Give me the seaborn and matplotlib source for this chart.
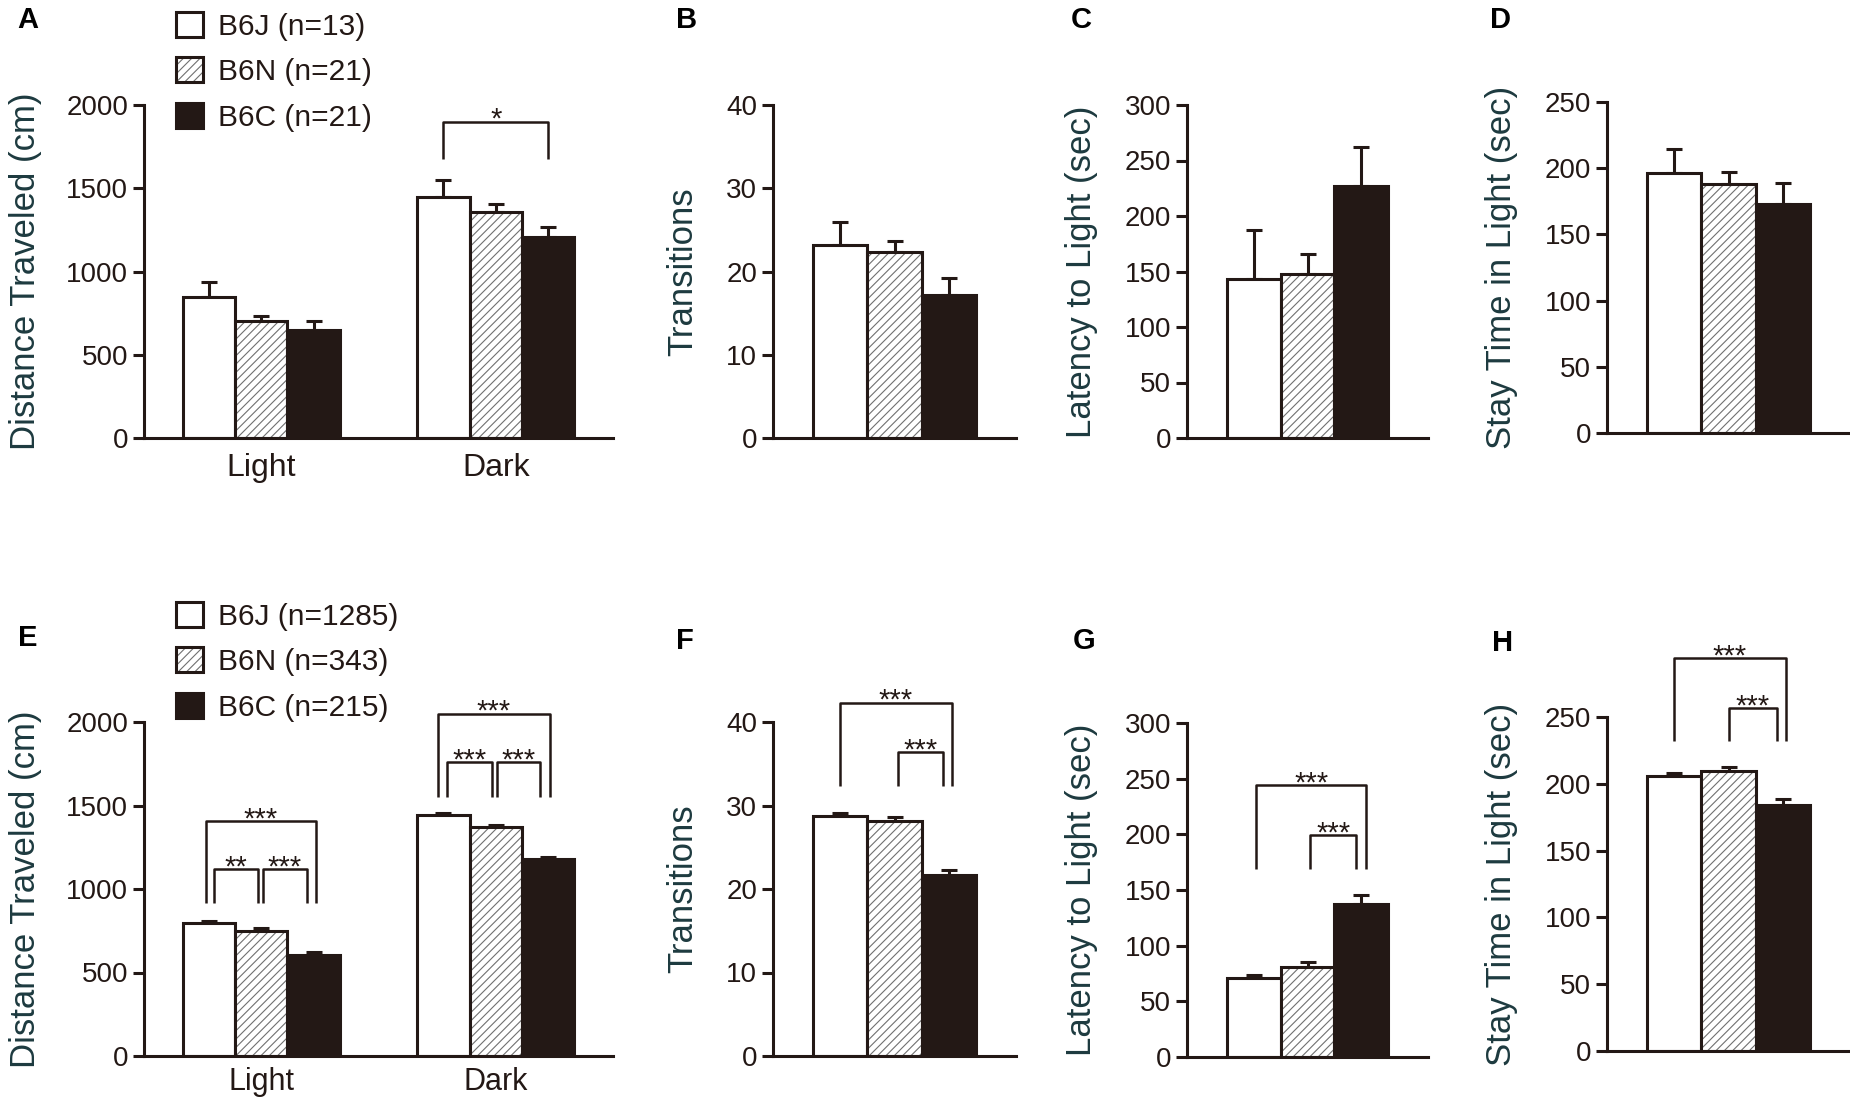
import numpy as np
import pandas as pd
import matplotlib
matplotlib.use("Agg")
import matplotlib.pyplot as plt
import seaborn as sns
from matplotlib.patches import Patch, Rectangle
from matplotlib.container import BarContainer
from matplotlib.legend_handler import HandlerTuple
import matplotlib.transforms as mtrans

# ---------------- data ----------------
strains = ["B6J", "B6N", "B6C"]
phases = ["Light", "Dark"]
legend_top = ["B6J (n=13)", "B6N (n=21)", "B6C (n=21)"]
legend_bottom = ["B6J (n=1285)", "B6N (n=343)", "B6C (n=215)"]

# Top row (A-D)
dist_top_light = [847, 704, 648]
dist_top_light_sem = [90, 30, 56]
dist_top_dark = [1448, 1360, 1210]
dist_top_dark_sem = [99, 48, 58]
trans_top = [23.2, 22.4, 17.2]
trans_top_sem = [2.8, 1.25, 2.0]
lat_top = [143.4, 148.0, 227.0]
lat_top_sem = [44.0, 18.0, 35.5]
stay_top = [196.4, 188.2, 172.8]
stay_top_sem = [18.0, 9.2, 15.9]

# Bottom row (E-H)
dist_bot_light = [794, 750, 606]
dist_bot_light_sem = [14, 14, 14]
dist_bot_dark = [1446, 1370, 1178]
dist_bot_dark_sem = [12, 16, 16]
trans_bot = [28.7, 28.1, 21.7]
trans_bot_sem = [0.4, 0.5, 0.6]
lat_bot = [71.4, 81.0, 137.1]
lat_bot_sem = [2.7, 3.9, 8.4]
stay_bot = [206.0, 209.3, 184.3]
stay_bot_sem = [2.0, 3.0, 4.3]

ylabels = ["Distance Traveled (cm)", "Transitions", "Latency to Light (sec)",
           "Stay Time in Light (sec)"]
yticks_list = [[0, 500, 1000, 1500, 2000], [0, 10, 20, 30, 40],
               [0, 50, 100, 150, 200, 250, 300], [0, 50, 100, 150, 200, 250]]

# significance labels and bracket heights (data units)
sig_A = [((1, 0), (1, 2), 1675, 1900, "*")]
sig_E = [((0, 0), (0, 2), 914, 1408, "***"), ((0, 0), (0, 1), 918, 1118, "**"),
         ((0, 1), (0, 2), 918, 1118, "***"),
         ((1, 0), (1, 2), 1550, 2050, "***"), ((1, 0), (1, 1), 1550, 1758, "***"),
         ((1, 1), (1, 2), 1550, 1758, "***")]
sig_F = [((0, 0), (0, 2), 32.3, 42.3, "***"), ((0, 1), (0, 2), 32.3, 36.4, "***")]
sig_G = [((0, 0), (0, 2), 169, 244, "***"), ((0, 1), (0, 2), 169, 199, "***")]
sig_H = [((0, 0), (0, 2), 231.8, 293.8, "***"), ((0, 1), (0, 2), 231.8, 256.8, "***")]

# bracket leg offsets from bar centres (fraction of bar width) - layout only
leg_off_A = [(0.0, 0.0)]
leg_off_E = [(-0.06, 0.045), (0.094, -0.06), (0.035, -0.13),
             (-0.10, 0.03), (0.07, -0.07), (0.026, -0.15)]
leg_off_F = [(0.0, 0.056), (0.06, -0.11)]
leg_off_G = [(0.044, 0.09), (0.044, -0.09)]
leg_off_H = [(0.0, 0.056), (0.0, -0.106)]

# ---------------- style ----------------
EDGE = "#231815"
HATCHC = "#707070"
YLAB = "#1d3a3f"
W, H = 1850, 1097
LW = 2.2

plt.rcParams["font.family"] = ["Liberation Sans", "DejaVu Sans"]
plt.rcParams["hatch.linewidth"] = 0.8
plt.rcParams["axes.linewidth"] = LW

fig = plt.figure(figsize=(W / 100, H / 100), dpi=100)

# axes rectangles in pixels: (left, right, top, bottom)
rects = {
    "A": (144, 613, 105, 438), "B": (773, 1016, 105, 438),
    "C": (1187, 1428, 105, 438), "D": (1607, 1850, 102, 433),
    "E": (144, 613, 722, 1056), "F": (773, 1016, 722, 1056),
    "G": (1187, 1428, 723, 1057), "H": (1607, 1850, 717, 1051),
}
ylabel_x = {"A": 26, "B": 683, "C": 1082, "D": 1501,
            "E": 26, "F": 683, "G": 1081, "H": 1502}
letter_pos = {"A": (17, 6), "B": (676, 6), "C": (1071, 6), "D": (1490, 6),
              "E": (18, 624), "F": (676, 627), "G": (1073, 627), "H": (1492, 629)}
xlab_pad = {"A": 10.5, "E": 8.0}
xlab_size = {"A": 23, "E": 22}


def make_ax(key):
    l, r, t, b = rects[key]
    return fig.add_axes([l / W, 1 - b / H, (r - l) / W, (b - t) / H])


def draw_panel(key, cats, means, sems, ylabel, yticks, sig=None, offs=None):
    ax = make_ax(key)
    rows = []
    for ci, c in enumerate(cats):
        for si, s in enumerate(strains):
            rows.append({"cat": c, "strain": s, "value": means[ci][si]})
    df = pd.DataFrame(rows)
    sns.barplot(data=df, x="cat", y="value", hue="strain", order=cats,
                hue_order=strains, width=0.67, errorbar=None, legend=False,
                palette={"B6J": "white", "B6N": "white", "B6C": EDGE},
                saturation=1, edgecolor=EDGE, linewidth=LW, ax=ax, zorder=2)
    bar_conts = [c for c in ax.containers if isinstance(c, BarContainer)]
    centers = {}
    for hi, cont in enumerate(bar_conts):
        for ci, bar in enumerate(cont.patches):
            x0, w, h = bar.get_x(), bar.get_width(), bar.get_height()
            centers[(ci, hi)] = (x0 + w / 2, w)
            if hi == 1:
                bar.set_hatch("////")
                bar.set_edgecolor(HATCHC)
                bar.set_linewidth(0)
                ax.add_patch(Rectangle((x0, 0), w, h, fill=False, edgecolor=EDGE,
                                       linewidth=LW, zorder=3))
            ax.errorbar(x0 + w / 2, h, yerr=[[0], [sems[ci][hi]]], fmt="none",
                        ecolor=EDGE, elinewidth=LW, capsize=5.5, capthick=LW,
                        zorder=1)
    ax.set_ylim(yticks[0], yticks[-1])
    ax.set_xlim(-0.5, len(cats) - 0.5)
    ax.set_yticks(yticks)
    ax.set_yticklabels([str(v) for v in yticks], fontsize=20, color=EDGE)
    ax.tick_params(axis="y", direction="out", length=8, width=LW, color=EDGE, pad=3.5)
    if len(cats) > 1:
        ax.set_xticks(range(len(cats)))
        ax.set_xticklabels(cats, fontsize=xlab_size[key], color=EDGE)
        ax.tick_params(axis="x", length=0, pad=xlab_pad[key])
    else:
        ax.set_xticks([])
    ax.set_xlabel("")
    for sp in ["top", "right"]:
        ax.spines[sp].set_visible(False)
    for sp in ["left", "bottom"]:
        ax.spines[sp].set_color(EDGE)
        ax.spines[sp].set_linewidth(LW)
    ax.set_ylabel(ylabel, fontsize=25, color=YLAB, va="center")
    tr = mtrans.blended_transform_factory(fig.transFigure, ax.transAxes)
    ax.yaxis.set_label_coords(ylabel_x[key] / W, 0.5, transform=tr)
    ax.patch.set_alpha(0)

    if sig:
        for (bi, bj, yl, yt, lab), (di, dj) in zip(sig, offs):
            xi = centers[bi][0] + di * centers[bi][1]
            xj = centers[bj][0] + dj * centers[bj][1]
            ax.plot([xi, xi, xj, xj], [yl, yt, yt, yl], color=EDGE, lw=1.8,
                    clip_on=False, solid_capstyle="butt", zorder=4)
            ax.annotate(lab, ((xi + xj) / 2, yt), xytext=(0, -4.5),
                        textcoords="offset points", ha="center", va="baseline",
                        fontsize=21, color=EDGE, annotation_clip=False)
    tl = letter_pos[key]
    fig.text(tl[0] / W, 1 - tl[1] / H, key, fontsize=21, fontweight="bold",
             va="top", ha="left", color="black")
    return ax


draw_panel("A", phases, [dist_top_light, dist_top_dark],
           [dist_top_light_sem, dist_top_dark_sem], ylabels[0], yticks_list[0],
           sig_A, leg_off_A)
draw_panel("B", [""], [trans_top], [trans_top_sem], ylabels[1], yticks_list[1])
draw_panel("C", [""], [lat_top], [lat_top_sem], ylabels[2], yticks_list[2])
draw_panel("D", [""], [stay_top], [stay_top_sem], ylabels[3], yticks_list[3])
draw_panel("E", phases, [dist_bot_light, dist_bot_dark],
           [dist_bot_light_sem, dist_bot_dark_sem], ylabels[0], yticks_list[0],
           sig_E, leg_off_E)
draw_panel("F", [""], [trans_bot], [trans_bot_sem], ylabels[1], yticks_list[1],
           sig_F, leg_off_F)
draw_panel("G", [""], [lat_bot], [lat_bot_sem], ylabels[2], yticks_list[2],
           sig_G, leg_off_G)
draw_panel("H", [""], [stay_bot], [stay_bot_sem], ylabels[3], yticks_list[3],
           sig_H, leg_off_H)

# legends
def legend_handles():
    h0 = Patch(facecolor="white", edgecolor=EDGE, linewidth=LW)
    h1 = (Patch(facecolor="white", edgecolor=HATCHC, hatch="////", linewidth=0),
          Patch(facecolor="none", edgecolor=EDGE, linewidth=LW))
    h2 = Patch(facecolor=EDGE, edgecolor=EDGE, linewidth=LW)
    return [h0, h1, h2]


for labels, ytop in [(legend_top, 12), (legend_bottom, 602)]:
    fig.legend(legend_handles(), labels, loc="upper left",
               bbox_to_anchor=(176 / W, 1 - ytop / H), frameon=False, fontsize=21.5,
               handlelength=0.9, handleheight=0.9, handletextpad=0.5,
               labelspacing=0.56, borderpad=0, borderaxespad=0,
               handler_map={tuple: HandlerTuple(ndivide=1, pad=0)}, labelcolor=EDGE)

fig.savefig("out.png", dpi=100)
